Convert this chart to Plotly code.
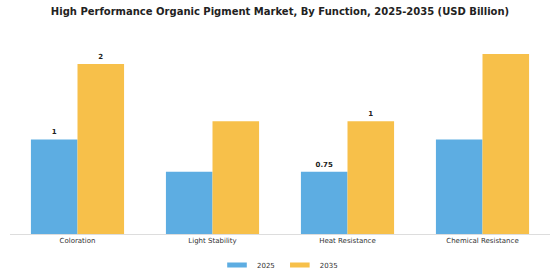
import plotly.graph_objects as go

categories = ["Coloration", "Light Stability", "Heat Resistance", "Chemical Resistance"]
values_2025 = [1.14, 0.75, 0.75, 1.14]
values_2035 = [2.05, 1.36, 1.36, 2.17]
labels_2025 = ["1", "", "0.75", ""]
labels_2035 = ["2", "", "1", ""]
series_names = ["2025", "2035"]

blue = "#5DADE2"
yellow = "#F7C04A"
font = "DejaVu Sans"
label_font = dict(size=7, color="#222", family=font, weight="bold")

fig = go.Figure()
for name, vals, labs, col in [(series_names[0], values_2025, labels_2025, blue),
                              (series_names[1], values_2035, labels_2035, yellow)]:
    fig.add_trace(go.Bar(name=name, x=categories, y=vals, marker_color=col,
                         marker_line_width=0, text=labs, textposition="outside",
                         textfont=label_font, cliponaxis=False,
                         legendgroup=name, showlegend=False))
    # legend swatch: wide short rectangle
    fig.add_trace(go.Scatter(name=name, x=[None], y=[None], mode="markers",
                             marker=dict(symbol="line-ew", size=14, line=dict(width=5, color=col)),
                             legendgroup=name, showlegend=True))

fig.update_layout(
    width=560, height=280,
    margin=dict(l=10, r=10, t=40, b=46, autoexpand=False),
    paper_bgcolor="white", plot_bgcolor="white",
    barmode="group", bargap=0.31, bargroupgap=0,
    title=dict(text="<b>High Performance Organic Pigment Market, By Function, 2025-2035 (USD Billion)</b>",
               x=0.5, xanchor="center", y=1 - 11 / 280, yanchor="middle", yref="container",
               font=dict(family=font, size=10, color="#222")),
    font=dict(family=font, size=7, color="#333"),
    showlegend=True,
    legend=dict(orientation="h", x=0.5, xanchor="center", y=1 - 265 / 280, yanchor="middle",
                yref="container", font=dict(size=7, color="#333"), itemwidth=30),
)
fig.update_xaxes(showline=True, linecolor="#DDDDDD", linewidth=1, ticks="", showgrid=False,
                 tickfont=dict(size=7, color="#333"))
fig.update_yaxes(visible=False, range=[0, 2.34], showgrid=False, zeroline=False)

fig.write_html("out.html")
